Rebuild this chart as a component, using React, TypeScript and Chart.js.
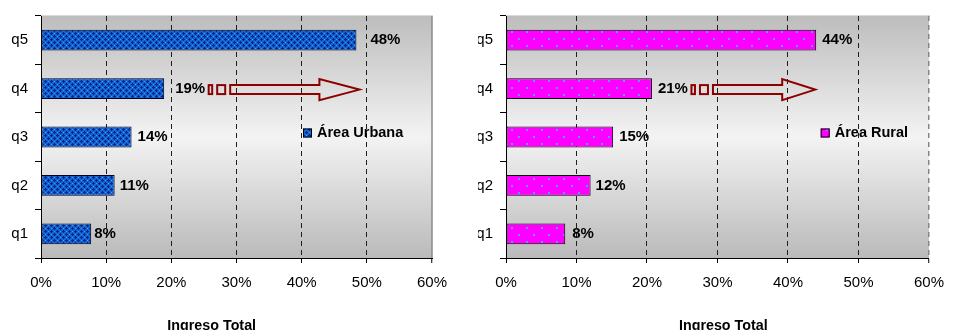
import React, { useEffect, useRef } from 'react';
import { Chart, registerables } from 'chart.js';

Chart.register(...registerables);

// ---- data ----
const categories = ['q1', 'q2', 'q3', 'q4', 'q5'];
const urbanValues = [7.7, 11.3, 13.9, 18.9, 48.4];
const ruralValues = [8.4, 12.0, 15.2, 20.7, 44.0];
const xTicks = [0, 10, 20, 30, 40, 50, 60];
const axisTitle = 'Ingreso Total';
const urbanLegend = 'Área Urbana';
const ruralLegend = 'Área Rural';

const FONT = '"Liberation Sans", Arial, sans-serif';

function makeBluePattern(ctx: CanvasRenderingContext2D) {
  const c = document.createElement('canvas');
  c.width = 6;
  c.height = 6;
  const g = c.getContext('2d')!;
  g.fillStyle = '#1266d4';
  g.fillRect(0, 0, 6, 6);
  g.fillStyle = '#052684';
  const navy = [[0, 0], [1, 0], [5, 0], [0, 1], [0, 5], [3, 3], [2, 3], [4, 3], [3, 2], [3, 4]];
  navy.forEach(([x, y]) => g.fillRect(x, y, 1, 1));
  g.fillStyle = '#3fa0ff';
  [[3, 0], [0, 3]].forEach(([x, y]) => g.fillRect(x, y, 1, 1));
  return ctx.createPattern(c, 'repeat')!;
}

function makePinkPattern(ctx: CanvasRenderingContext2D) {
  const c = document.createElement('canvas');
  c.width = 15;
  c.height = 14;
  const g = c.getContext('2d')!;
  g.fillStyle = '#ff00ff';
  g.fillRect(0, 0, 15, 14);
  g.fillStyle = '#5f96ff';
  g.fillRect(3, 3, 2, 2);
  g.fillRect(10, 10, 2, 2);
  return ctx.createPattern(c, 'repeat')!;
}

type Spec = {
  left: number;
  width: number;
  values: number[];
  legend: string;
  makePattern: (ctx: CanvasRenderingContext2D) => CanvasPattern;
  borderColor: string;
  yAxisWidth: number;
  padTop: number;
  padRight: number;
  xAxisHeight: number;
  legendX: number;
  legendY: number;
  titleX: number;
  tipOffset: number;
  headLen: number;
  labelGaps: number[];
  solidRight: boolean;
};

const specs: Spec[] = [
  {
    left: 0, width: 478, values: urbanValues, legend: urbanLegend, makePattern: makeBluePattern,
    borderColor: '#000020', yAxisWidth: 41, padTop: 13, padRight: 46, xAxisHeight: 72,
    legendX: 303, legendY: 133, titleX: 211.7, tipOffset: 4, headLen: 40,
    labelGaps: [3, 5, 6, 11, 14], solidRight: true,
  },
  {
    left: 478, width: 477, values: ruralValues, legend: ruralLegend, makePattern: makePinkPattern,
    borderColor: '#000000', yAxisWidth: 28, padTop: 14, padRight: 16, xAxisHeight: 72,
    legendX: 342.7, legendY: 133, titleX: 245.3, tipOffset: 0, headLen: 33,
    labelGaps: [7, 5, 6, 6, 6], solidRight: false,
  },
];

function Panel({ spec }: { spec: Spec }) {
  const ref = useRef<HTMLCanvasElement>(null);
  useEffect(() => {
    const canvas = ref.current!;
    const c2d = canvas.getContext('2d')!;
    const pattern = spec.makePattern(c2d);
    const labels = spec.values.map((v) => Math.round(v) + '%');

    const decor = {
      id: 'decor',
      beforeDraw(chart: any) {
        const { ctx, chartArea: a } = chart;
        ctx.save();
        const grad = ctx.createLinearGradient(0, a.top, 0, a.bottom);
        grad.addColorStop(0, '#bdbdbd');
        grad.addColorStop(0.5, '#f3f3f3');
        grad.addColorStop(1, '#bababa');
        ctx.fillStyle = grad;
        ctx.fillRect(a.left, a.top, a.right - a.left, a.bottom - a.top);
        ctx.strokeStyle = '#dadada';
        ctx.lineWidth = 1;
        ctx.beginPath();
        ctx.moveTo(a.left, a.top - 0.5);
        ctx.lineTo(a.right + 1, a.top - 0.5);
        ctx.stroke();
        if (spec.solidRight) {
          ctx.strokeStyle = '#8a8a8a';
          ctx.lineWidth = 1.5;
          ctx.beginPath();
          ctx.moveTo(a.right, a.top);
          ctx.lineTo(a.right, a.bottom);
          ctx.stroke();
        }
        ctx.restore();
      },
      afterDatasetsDraw(chart: any) {
        const { ctx } = chart;
        const meta = chart.getDatasetMeta(0);
        ctx.save();
        // value labels
        ctx.font = `bold 15px ${FONT}`;
        ctx.fillStyle = '#000';
        ctx.textAlign = 'left';
        ctx.textBaseline = 'middle';
        meta.data.forEach((bar: any, i: number) => {
          ctx.fillText(labels[i], bar.x + spec.labelGaps[i], bar.y);
        });
        // arrow from q4 label towards q5 level
        const q4 = meta.data[3];
        const q5 = meta.data[4];
        const labelEnd = q4.x + spec.labelGaps[3] + ctx.measureText(labels[3]).width;
        const y = q4.y + 1;
        const h = 4.5;
        const H = 10.5;
        ctx.strokeStyle = '#8c0000';
        ctx.lineWidth = 2;
        let x = labelEnd + 3.5;
        ctx.strokeRect(x, y - h, 3.5, 2 * h);
        x += 3.5 + 5;
        ctx.strokeRect(x, y - h, 8, 2 * h);
        x += 8 + 5;
        const tip = q5.x + spec.tipOffset - 1;
        const base = tip - spec.headLen;
        ctx.beginPath();
        ctx.moveTo(x, y - h);
        ctx.lineTo(base, y - h);
        ctx.lineTo(base, y - H);
        ctx.lineTo(tip, y);
        ctx.lineTo(base, y + H);
        ctx.lineTo(base, y + h);
        ctx.lineTo(x, y + h);
        ctx.closePath();
        ctx.stroke();
        // legend
        const lx = spec.legendX;
        const ly = spec.legendY;
        ctx.fillStyle = pattern;
        ctx.fillRect(lx, ly - 4.5, 9, 9);
        ctx.strokeStyle = '#000';
        ctx.lineWidth = 1;
        ctx.strokeRect(lx + 0.5, ly - 4, 8, 8);
        ctx.fillStyle = '#000';
        ctx.font = `bold 14.5px ${FONT}`;
        ctx.fillText(spec.legend, lx + 14, ly);
        // axis title
        ctx.font = `bold 14.3px ${FONT}`;
        ctx.textAlign = 'center';
        ctx.textBaseline = 'alphabetic';
        ctx.fillText(axisTitle, spec.titleX, 330);
        ctx.restore();
      },
    };

    const chart = new Chart(canvas, {
      type: 'bar',
      data: {
        labels: categories,
        datasets: [
          {
            data: spec.values,
            backgroundColor: pattern as any,
            borderColor: spec.borderColor,
            borderWidth: 1,
            borderSkipped: false,
            barPercentage: 0.43,
            categoryPercentage: 1,
          },
        ],
      },
      options: {
        indexAxis: 'y',
        responsive: false,
        animation: false,
        devicePixelRatio: 1,
        layout: { padding: { top: spec.padTop, right: spec.padRight, left: 0, bottom: 0 } },
        plugins: { legend: { display: false }, tooltip: { enabled: false } },
        scales: {
          x: {
            type: 'linear',
            min: 0,
            max: 60,
            afterBuildTicks: (s: any) => {
              s.ticks = xTicks.map((v) => ({ value: v }));
            },
            afterFit: (s: any) => {
              s.height = spec.xAxisHeight;
            },
            ticks: {
              callback: (v: any) => v + '%',
              font: { family: FONT, size: 15 },
              color: '#000',
              padding: 11,
              maxRotation: 0,
            },
            grid: {
              color: (c: any) => {
                const v = c.tick ? c.tick.value : -1;
                if (v === 0) return 'rgba(0,0,0,0)';
                if (v === 60) return spec.solidRight ? 'rgba(0,0,0,0)' : '#858585';
                return '#1e1e1e';
              },
              lineWidth: (c: any) => (c.tick && c.tick.value === 60 ? 1.5 : 1),
              tickColor: '#000',
              tickLength: 5,
              tickWidth: 1,
            },
            border: { display: true, color: '#000', width: 1, dash: [5, 4] },
          },
          y: {
            reverse: true,
            afterFit: (s: any) => {
              s.width = spec.yAxisWidth;
            },
            ticks: {
              font: { family: FONT, size: 15 },
              color: '#000',
              padding: 7,
            },
            grid: {
              drawOnChartArea: false,
              drawTicks: true,
              tickLength: 6,
              color: '#000',
              tickColor: '#000',
              offset: true,
            },
            border: { display: true, color: '#000', width: 1 },
          },
        },
      },
      plugins: [decor],
    } as any);
    return () => chart.destroy();
  }, [spec]);
  return (
    <canvas
      ref={ref}
      width={spec.width}
      height={330}
      style={{ position: 'absolute', left: spec.left, top: 0, width: spec.width, height: 330 }}
    />
  );
}

export default function App() {
  return (
    <div style={{ position: 'absolute', left: 0, top: 0, width: 955, height: 330, background: '#fff', overflow: 'hidden' }}>
      {specs.map((s, i) => (
        <Panel key={i} spec={s} />
      ))}
    </div>
  );
}
